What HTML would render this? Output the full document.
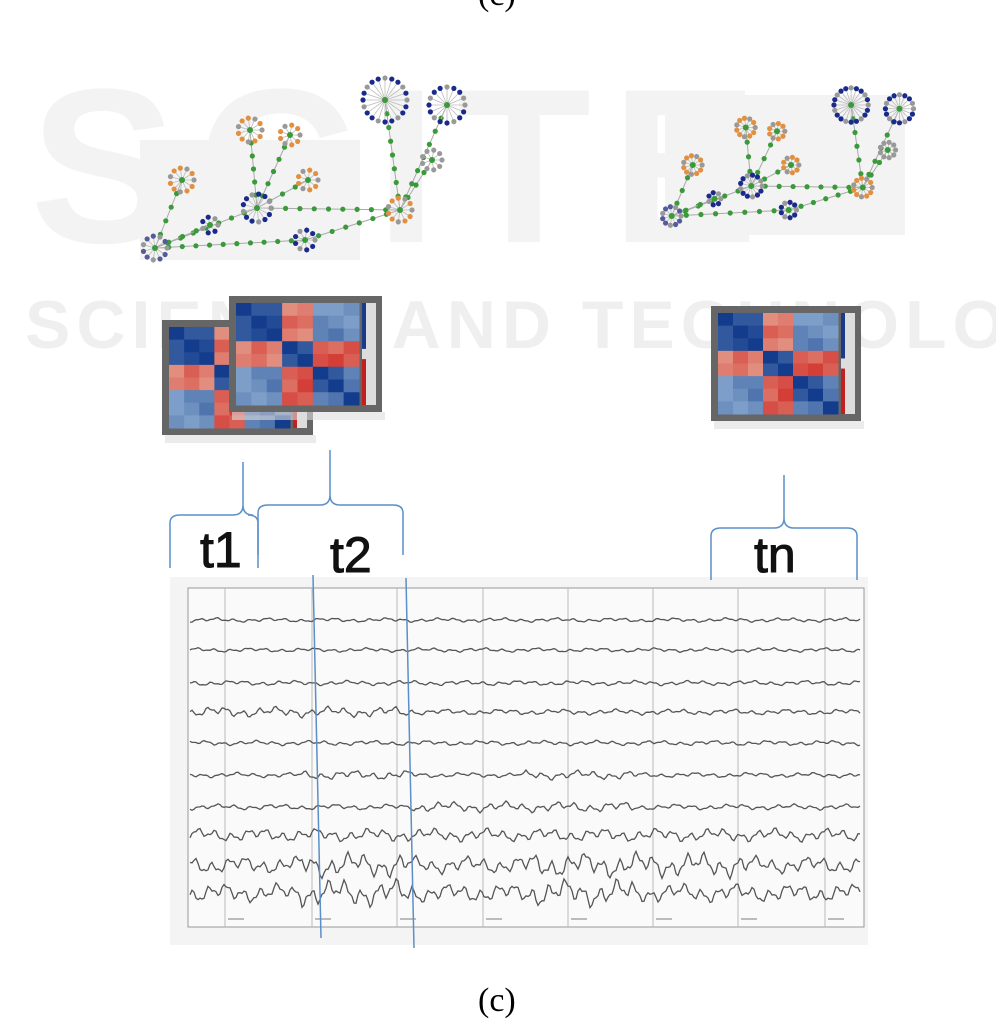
<!DOCTYPE html>
<html><head><meta charset="utf-8">
<style>
html,body{margin:0;padding:0;background:#fff}
body{width:996px;height:1020px;position:relative;overflow:hidden;font-family:"Liberation Sans",sans-serif}
#wmbox{position:absolute;left:0;top:0;width:996px;height:1020px;overflow:hidden}
.wm{position:absolute;font-weight:bold;font-family:"Liberation Sans",sans-serif;white-space:nowrap}
.lbl{position:absolute;font-family:"Liberation Sans",sans-serif;font-size:50px;color:#111;line-height:1;-webkit-text-stroke:1px #111}
</style></head>
<body>
<div id="wmbox">
<div class="wm" style="left:30px;top:40px;font-size:220px;letter-spacing:20px;color:#f3f3f3">SCITE</div>
<div class="wm" style="left:25px;top:286px;font-size:68px;letter-spacing:6px;color:#efefef">SCIENCE AND TECHNOLOGY</div>
</div>
<div style="position:absolute;left:478px;top:-24px;font-family:'Liberation Serif',serif;font-size:34px">(c)</div>

<svg id="net" width="996" height="1020" style="position:absolute;left:0;top:0"></svg>
<svg id="mat" width="996" height="1020" style="position:absolute;left:0;top:0"></svg>
<svg id="eeg" width="996" height="1020" style="position:absolute;left:0;top:0"></svg>

<div class="lbl" style="left:200px;top:525px">t1</div>
<div class="lbl" style="left:330px;top:530px">t2</div>
<div class="lbl" style="left:754px;top:530px">tn</div>
<div style="position:absolute;left:478px;top:982px;font-family:'Liberation Serif',serif;font-size:34px">(c)</div>

<script>
const NS='http://www.w3.org/2000/svg';
function mk(p,t,a){const e=document.createElementNS(NS,t);for(const k in a)e.setAttribute(k,a[k]);p.appendChild(e);return e;}

/* ---------- network graphs ---------- */
const hubs=[[257,208,14,'#1a2a8a'],[155,248,12,'#555a9a'],[250,130,12,'#e09040'],[290,135,10,'#e09040'],[182,180,12,'#e09040'],[385,100,22,'#1a2a8a'],[447,105,18,'#1a2a8a'],[400,210,12,'#e09040'],[305,240,10,'#1a2a8a'],[308,180,10,'#e09040'],[210,225,8,'#1a2a8a'],[432,160,10,'#999']];
const edges=[[0,1],[0,2],[0,3],[0,9],[0,7],[1,4],[1,10],[1,8],[5,7],[6,7],[11,7],[8,7]];
const net=document.getElementById('net');
function drawNet(ox,oy,sx,sy,bx,by,bw,bh,name){
  const g=mk(net,'g',{});
  
  
  mk(g,'rect',{x:bx,y:by,width:bw,height:bh,fill:'#f3f3f3'});
  const P=h=>[ox+(h[0]-140)*sx,oy+(h[1]-80)*sy];
  edges.forEach(e=>{const a=P(hubs[e[0]]),b=P(hubs[e[1]]);
    mk(g,'line',{x1:a[0],y1:a[1],x2:b[0],y2:b[1],stroke:'#aaa','stroke-width':1});
    const n=Math.max(2,Math.round(Math.hypot(b[0]-a[0],b[1]-a[1])/14));
    for(let i=1;i<n;i++){mk(g,'circle',{cx:a[0]+(b[0]-a[0])*i/n,cy:a[1]+(b[1]-a[1])*i/n,r:2.6,fill:'#3a9a3a'});}
  });
  hubs.forEach(h=>{const c=P(h);const n=Math.round(h[2]*0.9);const R=h[2]*sx;
    for(let i=0;i<n;i++){const an=i/n*6.283;const x=c[0]+Math.cos(an)*R,y=c[1]+Math.sin(an)*R;
      mk(g,'line',{x1:c[0],y1:c[1],x2:x,y2:y,stroke:'#bbb','stroke-width':0.8});
      mk(g,'circle',{cx:x,cy:y,r:2.6,fill:i%3==0?'#999':h[3]});}
    mk(g,'circle',{cx:c[0],cy:c[1],r:3,fill:'#3a9a3a'});
  });
}
drawNet(140,80,1,1,140,140,220,120,'network-t1');
drawNet(660,90,0.78,0.75,665,95,240,140,'network-tn');

/* ---------- correlation matrices ---------- */
const matVals=[
 [ 1,.8,.8,-.3,-.4,.3,.3,.4],
 [.8, 1,.9,-.6,-.5,.5,.4,.3],
 [.8,.9, 1,-.4,-.3,.5,.6,.4],
 [-.3,-.6,-.4,1,.8,-.6,-.5,-.7],
 [-.4,-.5,-.3,.8,1,-.7,-.8,-.6],
 [.3,.5,.5,-.6,-.7,1,.8,.5],
 [.3,.4,.6,-.5,-.8,.8,1,.6],
 [.4,.3,.4,-.7,-.6,.5,.6,1]];
const mat=document.getElementById('mat');
function col(v){if(v>=0){const t=v;return `rgb(${Math.round(170-150*t)},${Math.round(200-140*t)},${Math.round(225-85*t)})`;}
  const t=-v;return `rgb(${Math.round(235-30*t)},${Math.round(190-160*t)},${Math.round(170-145*t)})`;}
function drawMat(x,y,w,h,name){
  const g=mk(mat,'g',{});
  
  
  mk(g,'rect',{x:x+3,y:y+h,width:w,height:8,fill:'#ddd',opacity:.6});
  mk(g,'rect',{x:x,y:y,width:w,height:h,fill:'#666'});
  const ix=x+7,iy=y+7,iw=w-30,ih=h-14,n=matVals.length;
  matVals.forEach((r,i)=>r.forEach((v,j)=>mk(g,'rect',{x:ix+j*iw/n,y:iy+i*ih/n,width:iw/n+0.5,height:ih/n+0.5,fill:col(v)})));
  mk(g,'rect',{x:ix+iw+3,y:iy,width:14,height:ih,fill:'#ddd'});
  mk(g,'rect',{x:ix+iw+3,y:iy,width:4,height:ih*.45,fill:'#1a3a8a'});
  mk(g,'rect',{x:ix+iw+3,y:iy+ih*.55,width:4,height:ih*.45,fill:'#c02020'});
}
drawMat(162,320,151,115,'matrix-t1');
drawMat(229,296,153,116,'matrix-t2');
drawMat(711,306,150,115,'matrix-tn');

/* ---------- EEG ---------- */
const traceY=[620,650,683,712,743,775,807,835,865,893];
const traceAmp=[3,3,3.5,4,3.5,3.5,4,5,6.5,7];
const burst=[[0,0,0,0,0,0],[0,0,0,0,0,0],[0,0,0,0,0,0],[1,1,0,0,0,0],[0,0,0,0,0,0],[0,1,0,1,0,0],[0,0,1,1,0,0],[1,1,1,1,1,1],[1,2,1,2,2,1],[1,2,1,2,1,1]];
const gridX=[225,312,397,483,568,653,738,825];
const eeg=document.getElementById('eeg');
mk(eeg,'rect',{x:170,y:577,width:698,height:368,fill:'#f4f4f4'});
mk(eeg,'rect',{x:188,y:588,width:676,height:339,fill:'#fafafa',stroke:'#999','stroke-width':1});
gridX.forEach(x=>mk(eeg,'line',{x1:x,y1:588,x2:x,y2:927,stroke:'#bbb','stroke-width':1}));
gridX.forEach(x=>mk(eeg,'rect',{x:x+3,y:918,width:16,height:2,fill:'#bbb'}));
traceY.forEach((y0,k)=>{let d='';
  for(let x=190;x<=860;x+=2){const seg=Math.min(5,Math.floor((x-190)/112));
    const a=traceAmp[k]*(0.6+0.5*burst[k][seg]);
    const y=y0+a*(Math.sin(x*0.37+k)*0.6+Math.sin(x*0.11+k*2)*0.5+Math.sin(x*0.83+k*3)*0.3);
    d+=(x==190?'M':'L')+x+' '+y.toFixed(1);}
  const p=mk(eeg,'path',{d:d,fill:'none',stroke:'#555','stroke-width':1.3});
  
  
});
const blue='#5b8fc9';
const l1=mk(eeg,'line',{x1:313,y1:575,x2:321,y2:938,stroke:blue,'stroke-width':1.5});

const l2=mk(eeg,'line',{x1:406,y1:578,x2:414,y2:948,stroke:blue,'stroke-width':1.5});

function brace(x1,x2,xm,yTop,yPeak,yBot,name){
  const d=`M${x1} ${yBot} L${x1} ${yTop+8} Q${x1} ${yTop} ${x1+10} ${yTop} L${xm-10} ${yTop} Q${xm} ${yTop} ${xm} ${yTop-10} L${xm} ${yPeak} M${xm} ${yTop-10} Q${xm} ${yTop} ${xm+10} ${yTop} L${x2-10} ${yTop} Q${x2} ${yTop} ${x2} ${yTop+8} L${x2} ${yBot}`;
  const p=mk(eeg,'path',{d:d,fill:'none',stroke:blue,'stroke-width':1.5});
  
}
brace(170,258,243,515,462,568,'brace-t1');
brace(258,403,330,505,450,555,'brace-t2');
brace(711,857,784,528,475,580,'brace-tn');
</script>
</body></html>
